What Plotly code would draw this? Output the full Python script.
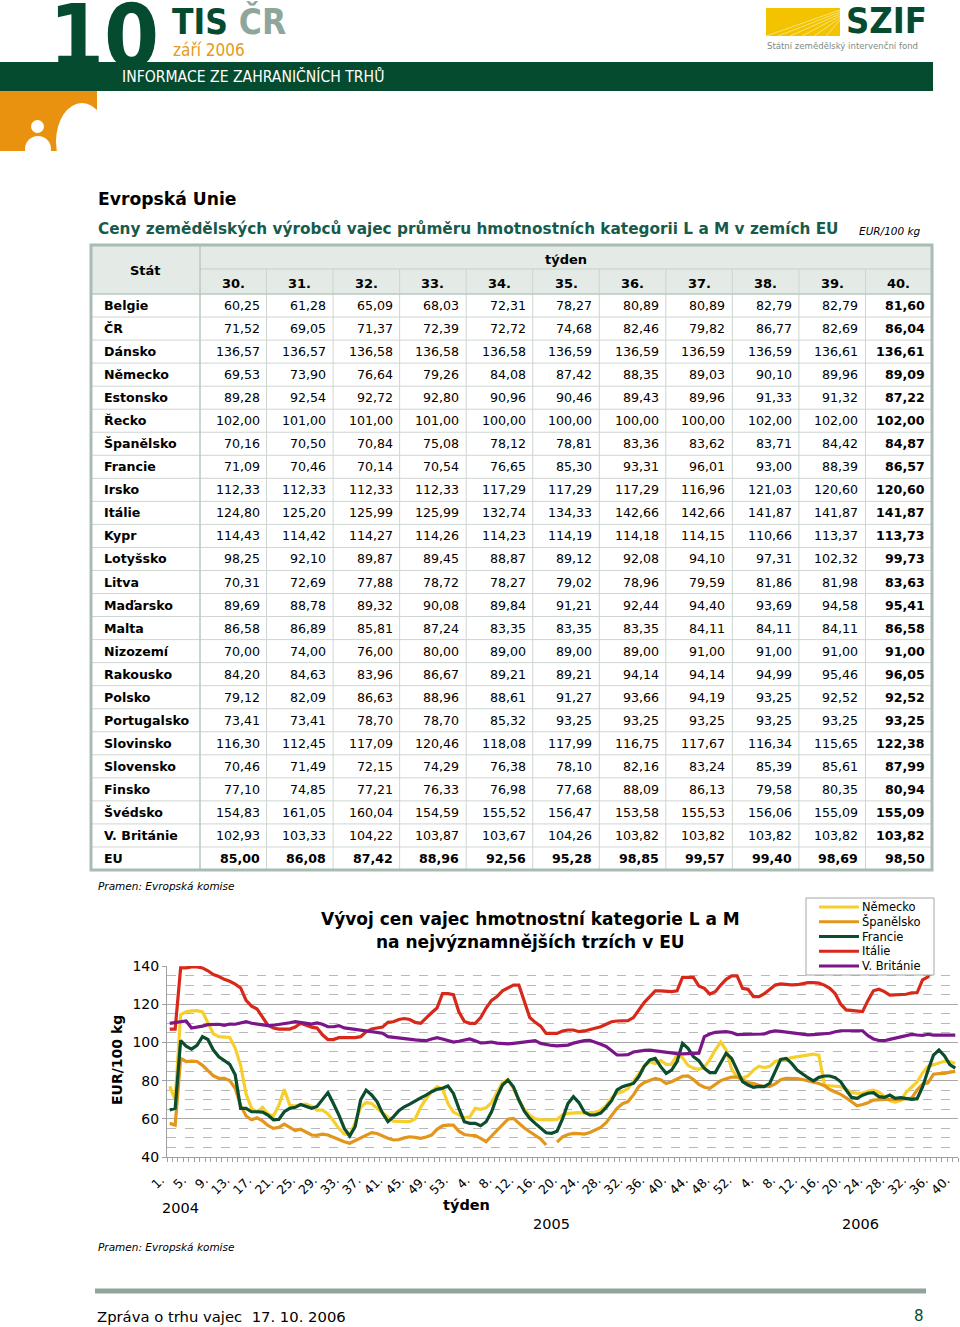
import plotly.graph_objects as go

W, H = 960, 1327
FONT = "DejaVu Sans"
COND = "DejaVu Sans Condensed"

# ---------------------------------------------------------------- data: table
weeks_hdr = ["30.", "31.", "32.", "33.", "34.", "35.", "36.", "37.", "38.", "39.", "40."]
countries = ["Belgie", "ČR", "Dánsko", "Německo", "Estonsko", "Řecko", "Španělsko", "Francie",
             "Irsko", "Itálie", "Kypr", "Lotyšsko", "Litva", "Maďarsko", "Malta", "Nizozemí",
             "Rakousko", "Polsko", "Portugalsko", "Slovinsko", "Slovensko", "Finsko", "Švédsko",
             "V. Británie", "EU"]
belgie = [60.25, 61.28, 65.09, 68.03, 72.31, 78.27, 80.89, 80.89, 82.79, 82.79, 81.60]
cr = [71.52, 69.05, 71.37, 72.39, 72.72, 74.68, 82.46, 79.82, 86.77, 82.69, 86.04]
dansko = [136.57, 136.57, 136.58, 136.58, 136.58, 136.59, 136.59, 136.59, 136.59, 136.61, 136.61]
nemecko = [69.53, 73.90, 76.64, 79.26, 84.08, 87.42, 88.35, 89.03, 90.10, 89.96, 89.09]
estonsko = [89.28, 92.54, 92.72, 92.80, 90.96, 90.46, 89.43, 89.96, 91.33, 91.32, 87.22]
recko = [102.00, 101.00, 101.00, 101.00, 100.00, 100.00, 100.00, 100.00, 102.00, 102.00, 102.00]
spanelsko = [70.16, 70.50, 70.84, 75.08, 78.12, 78.81, 83.36, 83.62, 83.71, 84.42, 84.87]
francie = [71.09, 70.46, 70.14, 70.54, 76.65, 85.30, 93.31, 96.01, 93.00, 88.39, 86.57]
irsko = [112.33, 112.33, 112.33, 112.33, 117.29, 117.29, 117.29, 116.96, 121.03, 120.60, 120.60]
italie = [124.80, 125.20, 125.99, 125.99, 132.74, 134.33, 142.66, 142.66, 141.87, 141.87, 141.87]
kypr = [114.43, 114.42, 114.27, 114.26, 114.23, 114.19, 114.18, 114.15, 110.66, 113.37, 113.73]
lotyssko = [98.25, 92.10, 89.87, 89.45, 88.87, 89.12, 92.08, 94.10, 97.31, 102.32, 99.73]
litva = [70.31, 72.69, 77.88, 78.72, 78.27, 79.02, 78.96, 79.59, 81.86, 81.98, 83.63]
madarsko = [89.69, 88.78, 89.32, 90.08, 89.84, 91.21, 92.44, 94.40, 93.69, 94.58, 95.41]
malta = [86.58, 86.89, 85.81, 87.24, 83.35, 83.35, 83.35, 84.11, 84.11, 84.11, 86.58]
nizozemi = [70.00, 74.00, 76.00, 80.00, 89.00, 89.00, 89.00, 91.00, 91.00, 91.00, 91.00]
rakousko = [84.20, 84.63, 83.96, 86.67, 89.21, 89.21, 94.14, 94.14, 94.99, 95.46, 96.05]
polsko = [79.12, 82.09, 86.63, 88.96, 88.61, 91.27, 93.66, 94.19, 93.25, 92.52, 92.52]
portugalsko = [73.41, 73.41, 78.70, 78.70, 85.32, 93.25, 93.25, 93.25, 93.25, 93.25, 93.25]
slovinsko = [116.30, 112.45, 117.09, 120.46, 118.08, 117.99, 116.75, 117.67, 116.34, 115.65, 122.38]
slovensko = [70.46, 71.49, 72.15, 74.29, 76.38, 78.10, 82.16, 83.24, 85.39, 85.61, 87.99]
finsko = [77.10, 74.85, 77.21, 76.33, 76.98, 77.68, 88.09, 86.13, 79.58, 80.35, 80.94]
svedsko = [154.83, 161.05, 160.04, 154.59, 155.52, 156.47, 153.58, 155.53, 156.06, 155.09, 155.09]
britanie = [102.93, 103.33, 104.22, 103.87, 103.67, 104.26, 103.82, 103.82, 103.82, 103.82, 103.82]
eu = [85.00, 86.08, 87.42, 88.96, 92.56, 95.28, 98.85, 99.57, 99.40, 98.69, 98.50]
table_rows = [belgie, cr, dansko, nemecko, estonsko, recko, spanelsko, francie, irsko, italie,
              kypr, lotyssko, litva, madarsko, malta, nizozemi, rakousko, polsko, portugalsko,
              slovinsko, slovensko, finsko, svedsko, britanie, eu]

# ---------------------------------------------------------------- data: chart (2004 w1-53, 2005 w1-52, 2006 w1-29)
nemecko_2004 = [77, 70, 114.5, 116, 116.5, 116.6, 116, 110, 104.5, 103, 102.6, 102.6, 97, 88, 73, 65.5,
                63.5, 66, 62.5, 61.5, 67, 75.5, 67.2, 66.7, 67.5, 67.7, 66.5, 64.5, 64.6, 62.5, 59, 55,
                52, 51.5, 58, 66, 68.5, 68, 65.5, 62.9, 60.8, 58.8, 58.5, 58.5, 58.5, 60, 66, 70.5,
                74.2, 76.8, 75.8, 68, 63.5]
nemecko_2005 = [62, 60.5, 61, 65.5, 65, 65.8, 68.5, 73.5, 79, 80.5, 76, 70, 65, 61.8, 60, 59.6, 59.4,
                59.4, 59.6, 62, 62.8, 63.2, 63.2, 63, 63.1, 63.4, 64.5, 67, 71, 73.4, 74.2, 75.8, 79.5,
                83.8, 87.6, 89.9, 89, 90.5, 88.5, 88.5, 93.5, 92, 88, 86.5, 85.9, 87, 91, 96, 100.2,
                96, 86, 82]
nemecko_2006 = [81.2, 82.5, 85.5, 87.5, 86.8, 87.5, 90, 90.9, 91.2, 92, 92.4, 93, 93.6, 93.9, 93.2,
                78, 77.3, 77.2, 76.8, 75.5, 73.8, 73.3, 73.5, 74.4, 75, 74, 71.8, 69.5, 68.8]

spanelsko_2004 = [57.6, 56.7, 91.6, 90, 90.2, 90, 88, 85.5, 82.5, 81.2, 81.2, 80, 76, 67, 61.5, 59.5,
                  60.5, 59, 56.5, 55, 55.5, 57.2, 55.5, 53.8, 54.5, 53, 51.5, 51.3, 52, 51.5, 50.2,
                  49.2, 48, 47.2, 48.5, 50.2, 51.5, 52.8, 52.3, 51, 49.8, 48.9, 49.1, 50, 50.6, 50.3,
                  49.8, 50.5, 51.5, 54.5, 56.3, 56.7, 56.7]
spanelsko_2005 = [53.5, 51.8, 51.4, 51.2, 49.8, 48, 51, 54, 57.3, 59.8, 60.2, 57.6, 55.2, 53.2, 51.5,
                  49.5, 46.3, None, 47.8, 50.5, 51.8, 52.4, 52.2, 52, 52.8, 54, 55.5, 58, 62, 65.5,
                  67.9, 69, 72.5, 77, 79, 80.2, 81.2, 80.5, 78.5, 79.4, 81, 82.3, 82.5, 80.6, 78,
                  76.5, 76, 77.8, 80, 81, 81.8, 81.8]
spanelsko_2006 = [80.3, 79, 78.5, 77.5, 77, 77, 78.3, 80.5, 81.2, 81.2, 81, 80.6, 80, 79.4, 78.5, 77.3,
                  75.3, 74, 72.8, 71, 68.8, 66.8, 67.5, 68.4, 69.8, 70.2, 70.2, 70.2, 70]

francie_2004 = [64.6, 65.5, 101, 98, 96.5, 98.5, 103, 101.5, 96, 92.5, 90.5, 88.5, 83, 65.5, 65.5, 63.7,
                63.7, 63.5, 62, 59.5, 59.7, 63.7, 65.5, 66, 67.5, 66.5, 65.5, 66.5, 70, 73.7, 68, 62,
                55, 51, 56, 70, 75, 72.5, 69, 63, 58.5, 61, 64.2, 66.3, 67.7, 69.5, 71, 72.4, 74.2,
                75.5, 76, 77.2, 73.3]
francie_2005 = [65.5, 58.5, 57.6, 57.6, 56.4, 58.5, 63.7, 71.6, 77.7, 80.3, 76.8, 69.8, 64, 60.2, 57.6,
                55, 52.7, 52.4, 53.5, 60, 68, 71.6, 68.5, 63.5, 62, 62, 63, 66, 69.5, 75.1, 76.8, 77.7,
                78.5, 82.1, 87.6, 90.8, 91.6, 87.3, 83.8, 85.5, 90, 99.5, 96.9, 92.5, 90.4, 86.4, 84.2,
                84.2, 89, 94.3, 91.6, 85.5]
francie_2006 = [79.4, 77.7, 76.5, 77, 76.8, 78.6, 84.7, 91.1, 91.6, 89, 85.5, 83.4, 81.5, 79.9, 81.7,
                82.4, 82.4, 81.5, 79.4, 75.1, 71.2, 70.7, 72.4, 73.4, 73.7, 71.6, 71.2, 72.4, 70.7]

italie_2004 = [107, 107, 139, 139, 139.5, 139.5, 139, 137.5, 135.5, 134.5, 133, 132, 130.5, 128.5, 122,
               119, 117.5, 113, 109, 107.5, 107, 107, 107, 108, 110, 109, 108, 107.5, 104, 101.5,
               101.5, 102.5, 102.5, 102.5, 102.5, 103, 105.5, 107, 107.4, 108, 110.5, 110.8, 112,
               112.5, 112, 110.5, 110, 113, 115.5, 118, 125.5, 125.5, 125]
italie_2005 = [116, 111, 110, 110, 113, 118, 122, 124, 127, 128.5, 130, 130, 122, 113, 110.5, 108.5,
               104.7, 104.7, 104.7, 106, 106.5, 106.5, 105.6, 106, 106.8, 107.5, 108.2, 109.5, 110.8,
               111.2, 111.4, 111.4, 113, 117, 121, 124, 127, 127, 126.6, 126.6, 127, 134, 134, 134,
               129.5, 128.3, 125.3, 126.5, 130, 133, 134.8, 134.8]
italie_2006 = [128.3, 127.8, 124, 124, 125.5, 128, 130, 130.6, 130.3, 130.1, 130.2, 130.8, 131.3, 131.3,
               131, 130, 128.3, 125.5, 120, 117, 116.8, 116.6, 116.1, 122, 127, 127.8, 126.6, 124.8, 125]

britanie_2004 = [110, 110.3, 111, 111.2, 107.5, 107.8, 108.5, 109.3, 109.6, 109.5, 108.9, 109.6, 109.5,
                 110.3, 110.9, 110, 109.6, 109.2, 108.8, 109, 109.3, 110, 110.3, 110.9, 110.5, 109.8,
                 109.6, 110.2, 109.5, 108.2, 108.2, 108.8, 107.6, 107.2, 106.8, 106.5, 106, 105.8,
                 105.3, 104.8, 103, 102.6, 102.2, 101.8, 101.5, 101.3, 101.1, 100.9, 101.8, 102.5,
                 101.8, 100.8, 100.2]
britanie_2005 = [100.6, 101.3, 101.8, 100.8, 99.7, 99.9, 100.2, 99.6, 99.4, 99.2, 99.5, 99.8, 100.2,
                 100.7, 100.9, 99.5, 98.8, 98.4, 98.2, 98.3, 98.6, 99.6, 100.4, 100.9, 101.1, 100.2, 99,
                 97.9, 95.5, 93.4, 93.4, 93.6, 95, 95.6, 95.8, 96, 95.6, 95.2, 94.6, 94.4, 94.1, 94, 94,
                 94.2, 94.4, 103, 104.4, 105.3, 105.6, 105.6, 105.2, 104.1]
britanie_2006 = [104.2, 104.3, 104.4, 104.4, 104.4, 105.5, 106, 105.8, 105.4, 105.1, 104.6, 104.2, 103.9,
                 104.1, 104.3, 104.4, 104.8, 105.6, 106.1, 106.1, 106.1, 106.1, 106.1, 103.5, 101.8, 101,
                 100.9, 101.6, 102.3]

years = [2004] * 53 + [2005] * 52 + [2006] * 40
weeks = list(range(1, 54)) + list(range(1, 53)) + list(range(1, 41))

series = [
    ("Německo", nemecko_2004 + nemecko_2005 + nemecko_2006 + nemecko, "#f6cf2c"),
    ("Španělsko", spanelsko_2004 + spanelsko_2005 + spanelsko_2006 + spanelsko, "#e3961c"),
    ("Francie", francie_2004 + francie_2005 + francie_2006 + francie, "#0b4d2c"),
    ("Itálie", italie_2004 + italie_2005 + italie_2006 + italie, "#d8281a"),
    ("V. Británie", britanie_2004 + britanie_2005 + britanie_2006 + britanie, "#7a1689"),
]


# ---------------------------------------------------------------- helpers (page pixels -> paper)
def px(x):
    return x / W


def py(y):
    return 1 - y / H


shapes = []
annotations = []


def rect(x0, y0, x1, y1, fill=None, line=None, lw=0, layer="below"):
    shapes.append(dict(type="rect", xref="paper", yref="paper", x0=px(x0), x1=px(x1),
                       y0=py(y1), y1=py(y0), fillcolor=fill or "rgba(0,0,0,0)", layer=layer,
                       line=dict(color=line or "rgba(0,0,0,0)", width=lw)))


def oval(x0, y0, x1, y1, fill):
    shapes.append(dict(type="circle", xref="paper", yref="paper", x0=px(x0), x1=px(x1),
                       y0=py(y1), y1=py(y0), fillcolor=fill, line=dict(width=0), layer="below"))


def seg(x0, y0, x1, y1, color, lw=1, layer="below"):
    shapes.append(dict(type="line", xref="paper", yref="paper", x0=px(x0), x1=px(x1),
                       y0=py(y0), y1=py(y1), layer=layer, line=dict(color=color, width=lw)))


def text(x, y, s, size, color="#000000", family=FONT, xanchor="left", yanchor="middle", angle=0):
    annotations.append(dict(x=px(x), y=py(y), xref="paper", yref="paper", text=s, showarrow=False,
                            xanchor=xanchor, yanchor=yanchor, textangle=angle,
                            font=dict(size=size, color=color, family=family)))


def fmt(v):
    return f"{v:.2f}".replace(".", ",")


# ---------------------------------------------------------------- page header
DKGREEN = "#054b2f"
text(47, 36, "<b>10</b>", 88, DKGREEN, COND)
text(170, 22, "<b>TIS <span style='color:#8fa69b'>ČR</span></b>", 35, DKGREEN, COND)
text(171, 50, "září 2006", 17, "#e39a22", COND)
rect(0, 62, 933, 91, fill=DKGREEN)
text(120, 77, "INFORMACE ZE ZAHRANIČNÍCH TRHŮ", 15.6, "#ffffff", COND)
rect(0, 91, 97, 151, fill="#e8920f")
oval(31, 120, 44, 133, "#ffffff")
oval(25, 136, 51, 162, "#ffffff")
oval(56, 103, 108, 180, "#ffffff")
rect(0, 151, 112, 185, fill="#ffffff")
rect(97, 92, 112, 151, fill="#ffffff")
# SZIF logo
rect(766, 8, 840, 36, fill="#f3c300")
for k in range(6):
    seg(766 + k * 12, 36, 840, 10 + k * 2, "#f8e27a", 1)
text(844, 21, "<b>SZIF</b>", 36, DKGREEN, COND)
text(765, 46, "Státní zemědělský intervenční fond", 9.5, "#7d8a84", COND)

# ---------------------------------------------------------------- table
text(96, 199, "<b>Evropská Unie</b>", 17.2)
text(96, 229, "<b>Ceny zemědělských výrobců vajec průměru hmotnostních kategorii L a M v zemích EU</b>",
     15.3, "#175b4b")
text(857, 231, "<i>EUR/100 kg</i>", 10.5)

T_TOP, T_HDR, T_BODY, ROW = 245, 269, 294, 23.04
X0, XS, X1 = 91, 200, 932
CW = (X1 - XS) / len(weeks_hdr)
T_BOT = T_BODY + ROW * len(countries)
rect(X0, T_TOP, X1, T_BODY, fill="#e4ebe7")
for k in range(1, len(countries)):
    seg(X0, T_BODY + k * ROW, X1, T_BODY + k * ROW, "#cdd6d1", 1)
for j in range(1, len(weeks_hdr)):
    seg(XS + j * CW, T_HDR, XS + j * CW, T_BOT, "#cdd6d1", 1)
seg(XS, T_HDR, X1, T_HDR, "#c3cfc9", 1)
seg(X0, T_BODY, X1, T_BODY, "#b9c8c0", 1.5)
seg(XS, T_TOP, XS, T_BOT, "#b9c8c0", 1.5)
rect(X0, T_TOP, X1, T_BOT, line="#a9bcb2", lw=3)

text((X0 + XS) / 2, 270, "<b>Stát</b>", 13, xanchor="center")
text((XS + X1) / 2, 259, "<b>týden</b>", 13, xanchor="center")
for j, wk in enumerate(weeks_hdr):
    text(XS + (j + 0.5) * CW, 283, f"<b>{wk}</b>", 13, xanchor="center")
for k, (name, row) in enumerate(zip(countries, table_rows)):
    yc = T_BODY + (k + 0.5) * ROW
    text(102, yc, f"<b>{name}</b>", 12.6)
    for j, v in enumerate(row):
        s = fmt(v)
        if j == len(row) - 1 or name == "EU":
            s = f"<b>{s}</b>"
        text(XS + (j + 1) * CW - 5, yc, s, 12.6, xanchor="right")
text(96, 886, "<i>Pramen: Evropská komise</i>", 10.5)

# ---------------------------------------------------------------- chart
x_idx = list(range(len(weeks)))
tickvals, ticktext = [], []
for i, (yr, wk) in enumerate(zip(years, weeks)):
    if (yr == 2004 and (wk - 1) % 4 == 0) or (yr != 2004 and wk % 4 == 0):
        tickvals.append(i)
        ticktext.append(f"{wk}.")

fig = go.Figure()
for name, vals, color in series:
    fig.add_trace(go.Scatter(x=x_idx, y=vals, mode="lines", name=name, connectgaps=False,
                             line=dict(color=color, width=3.2), showlegend=False))

text(530, 919, "<b>Vývoj cen vajec hmotnostní kategorie L a M</b>", 17, xanchor="center")
text(530, 942, "<b>na nejvýznamnějších trzích v EU</b>", 17, xanchor="center")
text(117, 1060, "<b>EUR/100 kg</b>", 14, xanchor="center", angle=-90)
text(180, 1208, "2004", 14.5, xanchor="center")
text(466, 1205, "<b>týden</b>", 14.5, xanchor="center")
text(551, 1224, "2005", 14.5, xanchor="center")
text(860, 1224, "2006", 14.5, xanchor="center")
text(96, 1247, "<i>Pramen: Evropská komise</i>", 10.5)

# legend box
rect(806, 898, 934, 975, fill="#ffffff", line="#a6a6a6", lw=1, layer="above")
for k, (name, vals, color) in enumerate(series):
    yy = 907 + k * 14.75
    seg(819, yy, 859, yy, color, 3.2, layer="above")
    text(860, yy, name, 11.5)

# footer
seg(95, 1291, 926, 1291, "#8fa59a", 5)
text(95, 1316, "Zpráva o trhu vajec  17. 10. 2006", 14.8)
text(926, 1316, "8", 15, DKGREEN, xanchor="right")

fig.update_layout(
    width=W, height=H, autosize=False,
    margin=dict(l=0, r=0, t=0, b=0, pad=0, autoexpand=False),
    paper_bgcolor="#ffffff", plot_bgcolor="#ffffff",
    font=dict(family=FONT, color="#000000"),
    shapes=shapes, annotations=annotations,
    xaxis=dict(domain=[px(167), px(958)], range=[-0.5, len(weeks) - 0.5], automargin=False,
               tickmode="array", tickvals=tickvals, ticktext=ticktext, tickangle=-45,
               tickfont=dict(size=12.5, family=FONT), ticks="", showgrid=False, zeroline=False,
               showline=True, linecolor="#a0a0a0", linewidth=1, ticklabelstandoff=10,
               ticklabelshift=-9, ticklabeloverflow="allow",
               minor=dict(tickmode="linear", tick0=-0.5, dtick=1, ticks="outside", ticklen=4,
                          tickcolor="#a0a0a0", showgrid=False)),
    yaxis=dict(domain=[py(1157), py(966)], range=[40, 140], automargin=False,
               tickmode="linear", tick0=40, dtick=20,
               tickfont=dict(size=14, family=FONT), ticks="outside", ticklen=4, tickcolor="#a0a0a0",
               showgrid=True, gridcolor="#a8a8a8", gridwidth=1, zeroline=False,
               showline=True, linecolor="#a0a0a0", linewidth=1,
               minor=dict(dtick=5, showgrid=True, gridcolor="#b8b8b8", griddash="dash", gridwidth=1)),
)

# the page is photographed at 960x1327, so drop the browser's default body margin
fig.write_html("out.html", config={"displayModeBar": False},
               post_script="document.body.style.margin = '0';")
